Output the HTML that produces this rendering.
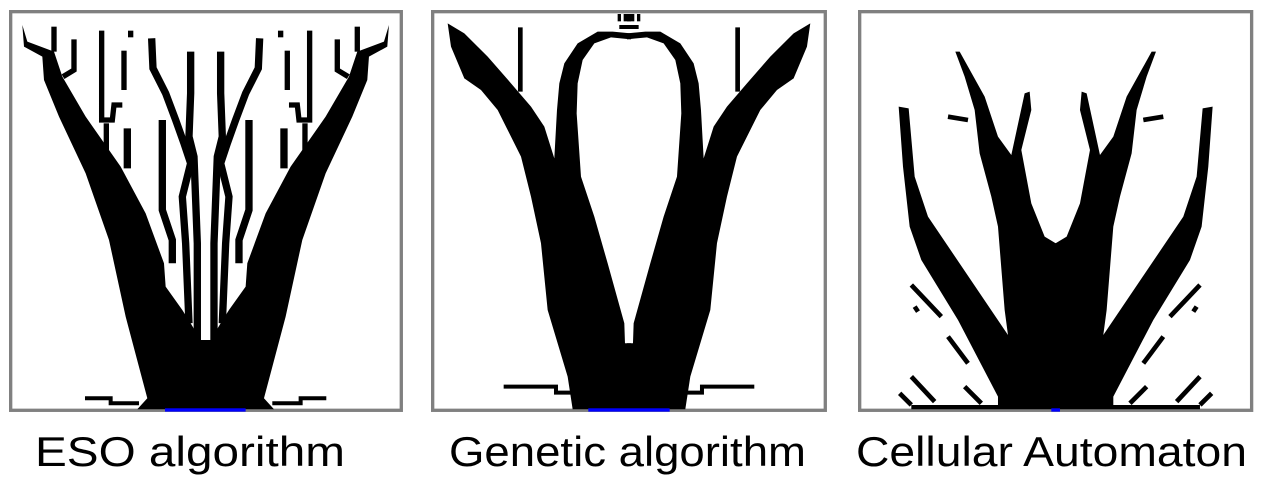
<!DOCTYPE html>
<html><head><meta charset="utf-8"><style>
html,body{margin:0;padding:0;background:#fff;width:1264px;height:485px;overflow:hidden}
svg{display:block}
text{font-family:"Liberation Sans",sans-serif;font-size:42px;fill:#000}
</style></head><body>
<svg width="1264" height="485" viewBox="0 0 1264 485">
<rect width="1264" height="485" fill="#fff"/>

<!-- ESO panel -->
<g transform="translate(9,10) scale(0.3333)">
  <rect x="5" y="5" width="1172" height="1196" fill="#fff" stroke="#808080" stroke-width="10"/>
  <g id="esoL">
    <polygon fill="#000" points="385,1198 415,1165 350,920 300,690 230,490 150,320 105,210 100,140 45,110 40,45 55,95 135,125 160,200 230,320 335,470 410,610 465,760 470,830 520,900 545,940 575,990 598,990 598,1198"/>
    <g fill="none" stroke="#000" stroke-width="22">
      <polyline points="540,940 530,700 520,560 545,460 525,400 500,330 470,250 432,175 428,85"/>
      <polyline points="565,990 565,700 555,440 540,380 545,250 545,190 545,125"/>
      <polyline points="460,330 460,600 490,690 490,760"/>
      <polyline points="355,355 355,475" />
      <polyline points="278,62 278,330 310,330 315,285 340,285" stroke-width="16"/>
      <polyline points="292,340 292,420" stroke-width="16"/>
      <polyline points="195,88 195,180 162,200" stroke-width="16"/>
      <polyline points="135,50 135,125" stroke-width="16"/>
      <polyline points="345,122 345,240" stroke-width="16"/>
      <polyline points="365,62 365,82" stroke-width="16"/>
      <polyline points="228,1165 305,1165 305,1180 390,1180" stroke-width="12"/>
    </g>
  </g>
  <use href="#esoL" transform="translate(1180,0) scale(-1,1)"/>
  <rect x="468" y="1195" width="242" height="10" fill="#0000ff"/>
</g>

<!-- Genetic panel -->
<g transform="translate(431,10) scale(0.3333)">
  <rect x="5" y="5" width="1178" height="1196" fill="#fff" stroke="#808080" stroke-width="10"/>
  <g id="genL">
    <polygon fill="#000" points="425,1198 410,1100 350,900 330,700 300,560 270,440 200,300 150,240 100,205 60,110 50,40 100,70 170,140 240,220 300,290 340,350 370,445 378,300 385,220 400,160 440,100 500,65 545,65 600,70 600,88 540,82 490,100 455,150 440,220 437,310 450,500 490,620 530,760 580,940 582,1000 600,1000 600,1198"/>
    <g fill="none" stroke="#000" stroke-width="14">
      <polyline points="268,52 268,245"/>
      <polyline points="405,185 405,235"/>
      <polyline points="218,1130 375,1130 375,1148 420,1148" stroke-width="12"/>
      <polyline points="100,198 140,198"/>
    </g>
    <rect x="565" y="45" width="35" height="12" fill="#000"/>
    <rect x="560" y="12" width="10" height="22" fill="#000"/>
    <rect x="578" y="12" width="22" height="22" fill="#000"/>
  </g>
  <use href="#genL" transform="translate(1188,0) scale(-1,1)"/>
  <rect x="472" y="1195" width="244" height="10" fill="#0000ff"/>
</g>

<!-- Cellular panel -->
<g transform="translate(858,10) scale(0.3333)">
  <rect x="5" y="5" width="1176" height="1196" fill="#fff" stroke="#808080" stroke-width="10"/>
  <g id="caL">
    <polygon fill="#000" points="600,1198 160,1198 160,1185 420,1185 420,1160 300,930 190,750 155,650 135,470 122,290 152,295 170,500 210,620 450,975 440,900 420,650 400,560 365,430 350,300 320,200 292,125 305,125 380,260 420,380 460,435 500,250 515,245 520,300 490,420 520,580 560,680 593,700 600,700"/>
    <g fill="none" stroke="#000" stroke-width="14">
      <polyline points="160,1100 230,1175"/>
      <polyline points="125,1150 160,1185"/>
      <polyline points="320,1130 370,1180"/>
      <polyline points="160,825 250,920"/>
      <polyline points="170,890 180,905"/>
      <polyline points="270,320 330,330"/>
      <polyline points="270,980 330,1060"/>
    </g>
  </g>
  <use href="#caL" transform="translate(1186,0) scale(-1,1)"/>
  <rect x="580" y="1195" width="26" height="10" fill="#0000ff"/>
</g>

<text x="35" y="466" textLength="310" lengthAdjust="spacingAndGlyphs">ESO algorithm</text>
<text x="449" y="466" textLength="357" lengthAdjust="spacingAndGlyphs">Genetic algorithm</text>
<text x="856" y="466" textLength="391" lengthAdjust="spacingAndGlyphs">Cellular Automaton</text>
</svg>
</body></html>
